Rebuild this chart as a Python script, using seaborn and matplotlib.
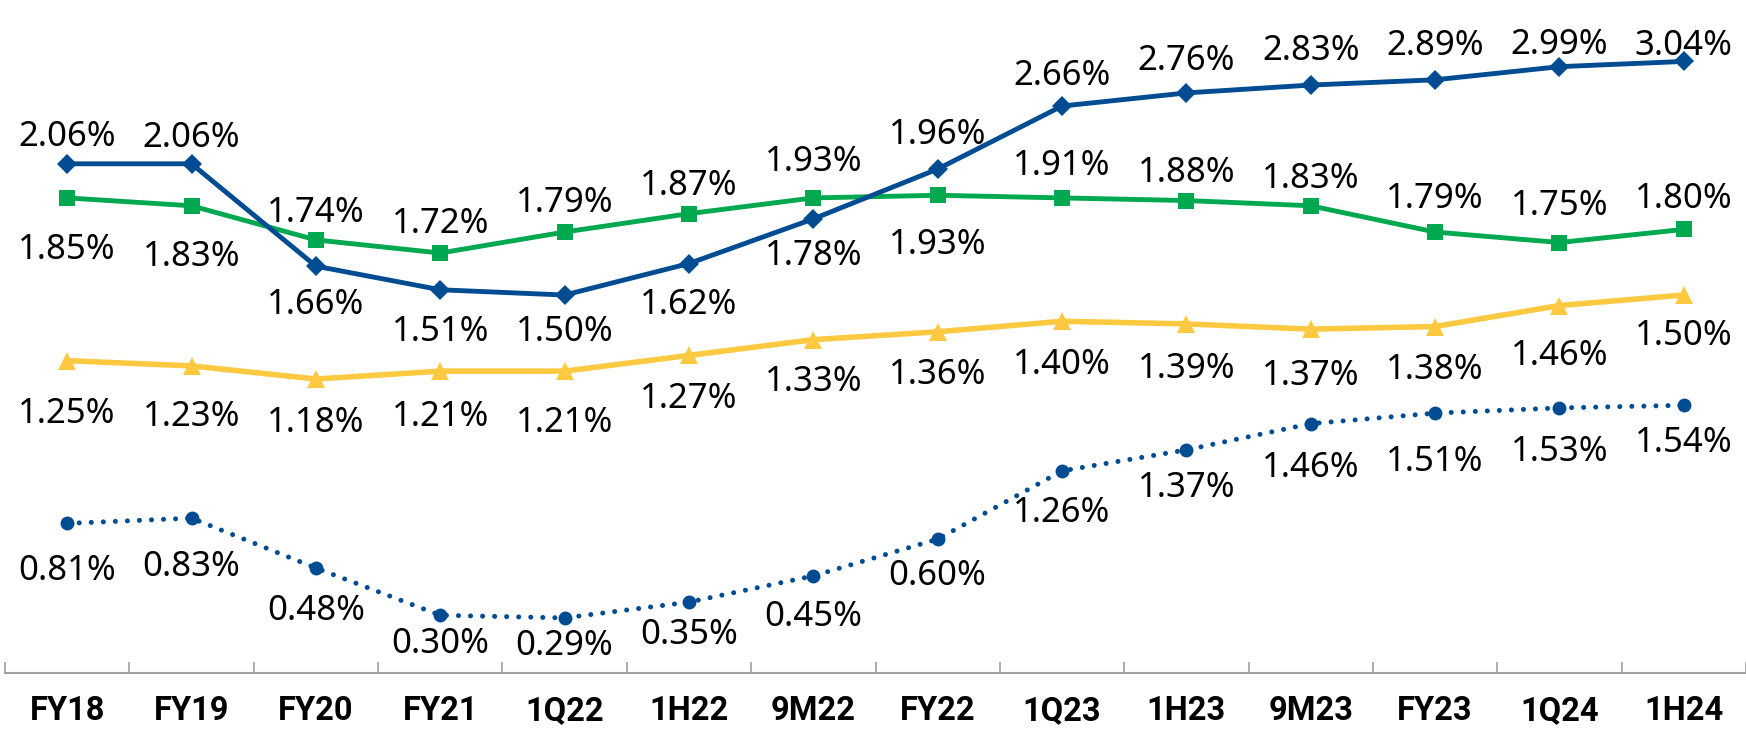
import matplotlib
matplotlib.use("Agg")
import matplotlib.pyplot as plt
import seaborn as sns
from matplotlib.ticker import FixedLocator

# categories on the x axis
periods = ["FY18", "FY19", "FY20", "FY21", "1Q22", "1H22", "9M22", "FY22",
           "1Q23", "1H23", "9M23", "FY23", "1Q24", "1H24"]

# marker heights (same % scale for all lines)
blue_pos = [2.00, 2.00, 1.61, 1.52, 1.50, 1.62, 1.79, 1.98, 2.22, 2.27, 2.30, 2.32, 2.37, 2.39]
green_pos = [1.87, 1.84, 1.71, 1.66, 1.74, 1.81, 1.87, 1.88, 1.87, 1.86, 1.84, 1.74, 1.70, 1.75]
yellow_pos = [1.25, 1.23, 1.18, 1.21, 1.21, 1.27, 1.33, 1.36, 1.40, 1.39, 1.37, 1.38, 1.46, 1.50]
dotted_pos = [0.63, 0.65, 0.46, 0.28, 0.27, 0.33, 0.43, 0.57, 0.83, 0.91, 1.01, 1.05, 1.07, 1.08]

# data labels printed on the chart
blue_lbl = [2.06, 2.06, 1.66, 1.51, 1.50, 1.62, 1.78, 1.96, 2.66, 2.76, 2.83, 2.89, 2.99, 3.04]
green_lbl = [1.85, 1.83, 1.74, 1.72, 1.79, 1.87, 1.93, 1.93, 1.91, 1.88, 1.83, 1.79, 1.75, 1.80]
yellow_lbl = [1.25, 1.23, 1.18, 1.21, 1.21, 1.27, 1.33, 1.36, 1.40, 1.39, 1.37, 1.38, 1.46, 1.50]
dotted_lbl = [0.81, 0.83, 0.48, 0.30, 0.29, 0.35, 0.45, 0.60, 1.26, 1.37, 1.46, 1.51, 1.53, 1.54]

# where each label sits: pixels from the point to the label centre (down is +)
blue_off = [-30, -29, 35, 39, 34, 38, 34, -37, -33, -35, -37, -37, -25, -19]
green_off = [49, 48, -30, -32, -32, -31, -39, 46, -35, -31, -30, -36, -40, -34]
yellow_off = [50, 48, 41, 42, 48, 40, 39, 40, 40, 42, 43, 40, 47, 38]
dotted_off = [44, 45, 40, 25, 25, 29, 38, 33, 39, 35, 41, 45, 41, 34]

BLUE = "#004C93"
GREEN = "#00A84F"
YELLOW = "#FCC940"

sns.set_theme(style="white")
plt.rcParams["font.family"] = ["Noto Sans", "DejaVu Sans"]

fig = plt.figure(figsize=(17.46, 7.31), dpi=100)
ax = fig.add_axes([5 / 1746, 1 - 673 / 731, 1 - 5 / 1746, 673 / 731])

sns.lineplot(x=periods, y=dotted_pos, ax=ax, color=BLUE, marker="o", markersize=10,
             markeredgewidth=0, linewidth=3.6, linestyle=(0, (0.01, 2.4)),
             dash_capstyle="round", sort=False, zorder=2)
sns.lineplot(x=periods, y=yellow_pos, ax=ax, color=YELLOW, marker="^", markersize=13,
             markeredgewidth=0, linewidth=4, sort=False, zorder=3)
sns.lineplot(x=periods, y=green_pos, ax=ax, color=GREEN, marker="s", markersize=12,
             markeredgewidth=0, linewidth=3.5, sort=False, zorder=4)
sns.lineplot(x=periods, y=blue_pos, ax=ax, color=BLUE, marker="D", markersize=10,
             markeredgewidth=0, linewidth=3.5, sort=False, zorder=5)

# data labels
fs = 25
half_cap = 0.714 * fs / 0.72 / 2  # px
for pos, lbl, off in [(blue_pos, blue_lbl, blue_off), (green_pos, green_lbl, green_off),
                      (yellow_pos, yellow_lbl, yellow_off), (dotted_pos, dotted_lbl, dotted_off)]:
    for i in range(len(periods)):
        dy = -(off[i] + half_cap) * 0.72
        ax.annotate(f"{lbl[i]:.2f}%", (i, pos[i]), xytext=(0, dy), textcoords="offset points",
                    ha="center", va="baseline", fontsize=fs, color="black", zorder=6)

ax.set_xlim(-0.5, 13.5)
ax.set_ylim(0.06, 2.624)
ax.set_yticks([])
ax.set_xticks(range(len(periods)))
ax.set_xticklabels(periods, fontfamily="Roboto", fontweight="bold", fontsize=23.5)
ax.xaxis.set_minor_locator(FixedLocator([k - 0.5 for k in range(len(periods) + 1)]))
ax.tick_params(axis="x", which="major", length=0, pad=16, colors="black")
ax.tick_params(axis="x", which="minor", bottom=True, length=8, width=1.2,
               direction="in", color="#A0A0A0")
for s in ["top", "left", "right"]:
    ax.spines[s].set_visible(False)
ax.spines["bottom"].set_color("#A0A0A0")
ax.spines["bottom"].set_linewidth(1.5)
ax.patch.set_alpha(0)

fig.savefig("out.png", dpi=100)
